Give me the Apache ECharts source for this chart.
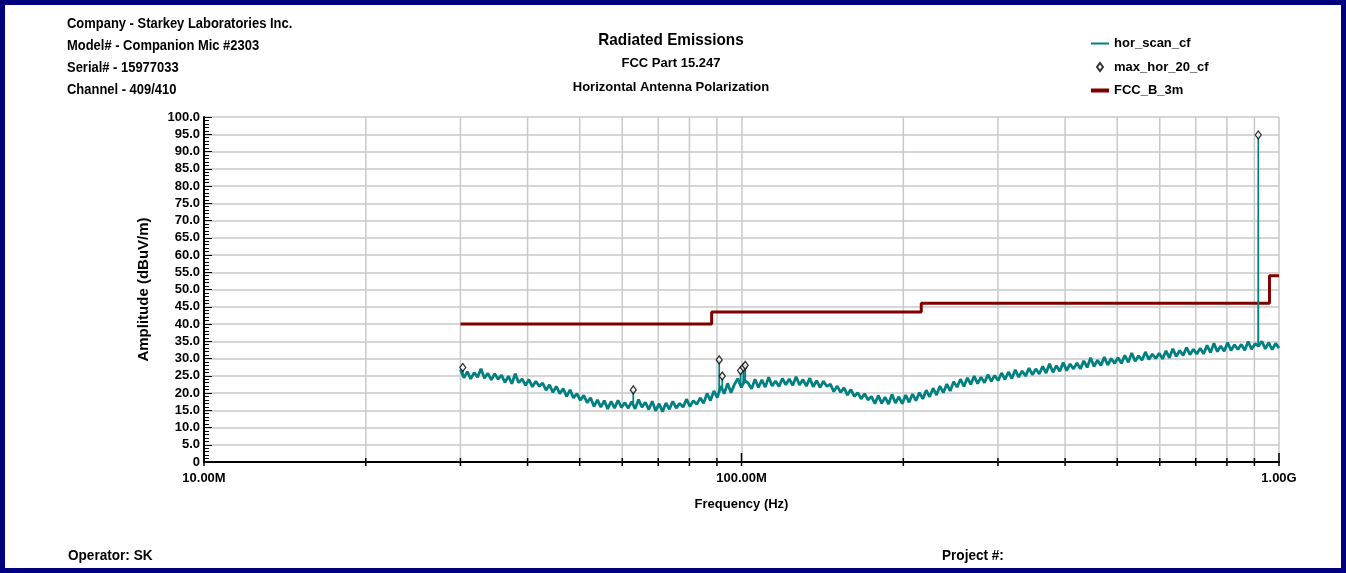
<!DOCTYPE html>
<html>
<head>
<meta charset="utf-8">
<script src="https://cdn.jsdelivr.net/npm/echarts@6/dist/echarts.min.js"></script>
<style>
  html, body { margin: 0; padding: 0; background: #ffffff; }
  #chart { width: 1346px; height: 573px; }
</style>
</head>
<body>
<div id="chart"></div>
<script>
  // sweep of the analyser (MHz), points are log spaced from start to stop
  const scanStartMHz = 30
  const scanStopMHz = 1000
  // hor_scan_cf, dBuV/m
  const scanLevels = [
    26.8, 24.4, 26.2, 24.1, 25.9, 24.6, 27.0, 24.3, 25.7, 23.8, 25.6, 24.0,
    25.2, 23.1, 24.9, 22.7, 25.6, 23.0, 24.1, 22.2, 23.9, 21.8, 23.4, 22.0,
    22.9, 20.8, 22.4, 20.2, 21.9, 19.8, 21.3, 19.0, 20.9, 18.6, 19.8, 17.9,
    19.3, 17.2, 18.6, 16.1, 18.0, 15.9, 17.8, 15.4, 17.6, 15.6, 17.9, 15.8,
    17.2, 15.6, 17.5, 15.4, 18.1, 15.9, 17.3, 15.2, 17.6, 14.8, 16.9, 14.6,
    17.1, 15.3, 17.6, 15.6, 17.0, 15.9, 18.2, 16.1, 17.8, 16.7, 18.6, 17.0,
    19.9, 17.8, 20.6, 18.7, 22.0, 19.8, 22.8, 20.1, 22.5, 24.2, 21.6, 23.6,
    22.9, 21.2, 24.0, 21.6, 23.8, 21.7, 24.6, 22.0, 23.5, 21.9, 24.2, 22.4,
    24.1, 22.2, 24.7, 22.3, 23.9, 22.0, 24.3, 21.8, 23.6, 21.6, 23.4, 21.9,
    22.6, 20.4, 22.0, 20.2, 21.5, 19.4, 21.0, 19.0, 20.1, 18.3, 19.8, 18.0,
    19.0, 16.9, 19.3, 17.0, 18.8, 16.8, 19.6, 17.1, 18.9, 16.9, 19.4, 17.3,
    19.7, 17.8, 20.1, 18.3, 20.8, 18.9, 21.4, 19.4, 22.0, 20.1, 22.6, 20.6,
    23.3, 21.7, 24.0, 21.9, 24.4, 22.5, 24.9, 22.7, 24.6, 23.0, 25.3, 23.4,
    25.1, 23.6, 25.8, 23.9, 26.1, 24.2, 26.7, 24.6, 26.4, 24.9, 27.2, 25.3,
    27.0, 25.5, 27.7, 25.8, 28.5, 26.0, 27.9, 26.3, 28.8, 26.5, 28.4, 27.0,
    28.7, 27.0, 29.3, 27.4, 30.2, 27.7, 29.5, 28.0, 30.4, 28.1, 30.0, 28.6,
    30.2, 28.6, 30.9, 28.9, 31.6, 29.2, 30.8, 29.5, 31.9, 29.7, 31.3, 30.0,
    31.5, 29.9, 32.2, 30.2, 32.8, 30.6, 32.3, 30.9, 33.2, 31.1, 32.7, 31.3,
    33.0, 31.4, 33.8, 31.7, 34.4, 32.0, 33.6, 32.1, 34.6, 32.3, 34.0, 32.6,
    34.1, 32.4, 34.9, 32.7, 34.3, 33.6, 35.0, 32.8, 34.6, 32.6, 34.4, 33.0
  ]
  // narrow spurs on the trace: frequency, peak, floor under it
  const spurFreqs = [30.3, 62.9, 90.9, 92.1, 99.6, 100.8, 101.6, 915]
  const spurLevels = [27.2, 20.8, 29.6, 24.9, 26.5, 27.4, 28.0, 94.8]
  const spurFloors = [25.0, 17.0, 20.0, 21.0, 22.0, 22.5, 23.0, 34.0]
  // max_hor_20_cf
  const maxFreqs = [30.3, 62.9, 90.9, 92.1, 99.6, 100.8, 101.6, 915]
  const maxLevels = [27.4, 20.9, 29.6, 24.9, 26.5, 27.4, 28.0, 94.8]
  // FCC_B_3m limit steps
  const limitFreqs = [30, 88, 88, 216, 216, 960, 960, 1000]
  const limitLevels = [40, 40, 43.5, 43.5, 46, 46, 54, 54]
  // decade grid (MHz)
  const gridFreqs = [20, 30, 40, 50, 60, 70, 80, 90, 200, 300, 400, 500, 600, 700, 800, 900]
  const majorFreqs = [10, 100, 1000]

  const MHz = 1e6
  const FONT = '"Liberation Sans", Arial, sans-serif'
  const TEAL = '#008080'
  const MAROON = '#800000'

  const scanData = scanLevels.map(function (v, i) {
    const f = scanStartMHz * Math.pow(scanStopMHz / scanStartMHz, i / (scanLevels.length - 1))
    return [f * MHz, v]
  })
  const spurData = []
  spurFreqs.forEach(function (f, i) {
    spurData.push([f * 0.9993 * MHz, spurFloors[i]])
    spurData.push([f * MHz, spurLevels[i]])
    spurData.push([f * 1.0007 * MHz, spurFloors[i]])
    spurData.push([f * 1.0007 * MHz, '-'])
  })

  const chart = echarts.init(document.getElementById('chart'), null, { renderer: 'canvas' })

  function text (x, y, str, size, sx) {
    return {
      type: 'text', x: x, y: y, scaleX: sx || 1, silent: true,
      style: { text: str, fill: '#000', font: 'bold ' + size + 'px ' + FONT, textAlign: 'left', textVerticalAlign: 'middle' }
    }
  }
  function centred (y, str, size, sx) {
    return {
      type: 'text', x: 671, y: y, scaleX: sx, silent: true,
      style: { text: str, fill: '#000', font: 'bold ' + size + 'px ' + FONT, textAlign: 'center', textVerticalAlign: 'middle' }
    }
  }

  const option = {
    animation: false,
    backgroundColor: '#ffffff',
    graphic: [
      { type: 'rect', shape: { x: 2.5, y: 2.5, width: 1341, height: 568 },
        style: { fill: 'none', stroke: '#00007f', lineWidth: 5 }, silent: true },
      text(67, 24, 'Company - Starkey Laboratories Inc.', 14, 0.925),
      text(67, 46, 'Model# - Companion Mic #2303', 14, 0.925),
      text(67, 68, 'Serial# - 15977033', 14, 0.925),
      text(67, 90, 'Channel - 409/410', 14, 0.925),
      centred(40, 'Radiated Emissions', 17, 0.9),
      centred(63, 'FCC Part 15.247', 13, 1),
      centred(87, 'Horizontal Antenna Polarization', 13, 1),
      text(68, 556, 'Operator: SK', 14, 0.97),
      text(942, 556, 'Project #:', 14, 0.97)
    ],
    legend: {
      orient: 'vertical',
      left: 1086,
      top: 32,
      itemGap: 10.5,
      itemWidth: 18,
      itemHeight: 8,
      symbolKeepAspect: true,
      textStyle: { fontFamily: FONT, fontWeight: 'bold', fontSize: 13, color: '#000' },
      data: [
        { name: 'hor_scan_cf', icon: 'path://M0,0L18,0L18,2L0,2Z' },
        { name: 'max_hor_20_cf', icon: 'path://M3,0L6,4L3,8L0,4Z' },
        { name: 'FCC_B_3m', icon: 'path://M0,0L18,0L18,4L0,4Z' }
      ]
    },
    grid: { left: 204, top: 117, width: 1075, height: 345 },
    xAxis: {
      type: 'log',
      logBase: 10,
      min: 10 * MHz,
      max: 1000 * MHz,
      name: 'Frequency (Hz)',
      nameLocation: 'middle',
      nameGap: 36,
      nameTextStyle: { fontFamily: FONT, fontWeight: 'bold', fontSize: 13, color: '#000' },
      axisLine: { lineStyle: { color: '#000', width: 2 } },
      axisTick: { show: false },
      axisLabel: {
        fontFamily: FONT, fontWeight: 'bold', fontSize: 13, color: '#000', margin: 10,
        formatter: function (v) {
          if (v >= 999 * MHz) return (v / 1e9).toFixed(2) + 'G'
          return (v / MHz).toFixed(2) + 'M'
        }
      },
      splitLine: { show: true, lineStyle: { color: '#c9c9c9', width: 1.5 } }
    },
    yAxis: {
      type: 'value',
      min: 0,
      max: 100,
      interval: 5,
      name: 'Amplitude (dBuV/m)',
      nameLocation: 'middle',
      nameGap: 53,
      nameTextStyle: { fontFamily: FONT, fontWeight: 'bold', fontSize: 15, color: '#000' },
      axisLine: { show: true, lineStyle: { color: '#000', width: 2 } },
      axisTick: { show: true, inside: true, length: 8, lineStyle: { color: '#000' } },
      minorTick: { show: true, splitNumber: 5, length: 5, lineStyle: { color: '#000' } },
      axisLabel: {
        fontFamily: FONT, fontWeight: 'bold', fontSize: 13, color: '#000', margin: 4,
        formatter: function (v) { return v === 0 ? '0' : v.toFixed(1) }
      },
      splitLine: { show: true, lineStyle: { color: '#c9c9c9', width: 1.5 } }
    },
    series: [
      {
        // decade grid lines and ticks on the x axis
        type: 'custom',
        silent: true,
        clip: false,
        z: 1,
        data: gridFreqs.map(function (f) { return [f * MHz, 0] })
          .concat(majorFreqs.map(function (f) { return [f * MHz, 1] })),
        renderItem: function (params, api) {
          const f = api.value(0)
          const major = api.value(1) === 1
          const bottom = api.coord([f, 0])
          const top = api.coord([f, 100])
          const children = [
            { type: 'line', shape: { x1: bottom[0], y1: bottom[1] - (major ? 9 : 4), x2: bottom[0], y2: bottom[1] + 4 },
              style: { stroke: '#000', lineWidth: 1.5 } }
          ]
          if (!major) {
            children.unshift({ type: 'line', shape: { x1: top[0], y1: top[1], x2: bottom[0], y2: bottom[1] },
              style: { stroke: '#c9c9c9', lineWidth: 1.5 } })
          }
          return { type: 'group', children: children }
        }
      },
      {
        name: 'FCC_B_3m',
        type: 'line',
        z: 3,
        symbol: 'none',
        data: limitFreqs.map(function (f, i) { return [f * MHz, limitLevels[i]] }),
        lineStyle: { color: MAROON, width: 3 },
        itemStyle: { color: MAROON }
      },
      {
        name: 'hor_scan_cf',
        type: 'line',
        z: 4,
        symbol: 'none',
        data: scanData,
        lineStyle: { color: TEAL, width: 2.8 },
        itemStyle: { color: TEAL }
      },
      {
        name: 'hor_scan_cf',
        type: 'line',
        z: 4,
        symbol: 'none',
        connectNulls: false,
        data: spurData,
        lineStyle: { color: TEAL, width: 1.6 },
        itemStyle: { color: TEAL }
      },
      {
        name: 'max_hor_20_cf',
        type: 'scatter',
        z: 5,
        symbol: 'diamond',
        symbolSize: [6, 8],
        data: maxFreqs.map(function (f, i) { return [f * MHz, maxLevels[i]] }),
        itemStyle: { color: '#ffffff', borderColor: '#000000', borderWidth: 1.3 }
      }
    ]
  }
  chart.setOption(option)
</script>
</body>
</html>
